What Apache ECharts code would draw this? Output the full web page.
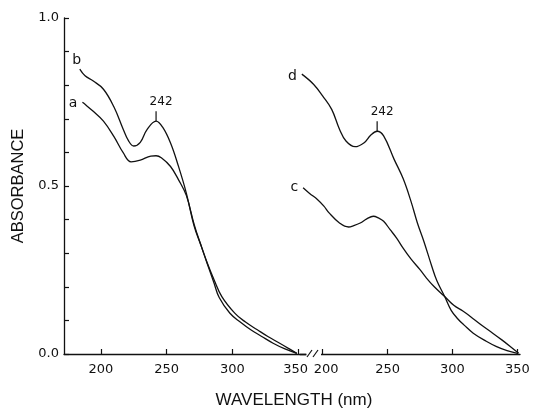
<!DOCTYPE html>
<html>
<head>
<meta charset="utf-8">
<script src="https://cdn.jsdelivr.net/npm/echarts@6/dist/echarts.min.js"></script>
<style>
  html, body { margin: 0; padding: 0; background: #fff; }
  #uvSpectra { width: 536px; height: 408px; }
</style>
</head>
<body>
<div id="uvSpectra"></div>
<script>
// left panel: curves a and b
var waveA = [186, 188, 194, 202, 210, 217, 223, 230, 238, 242, 246, 253, 259, 265, 271, 276, 281, 286, 292, 302, 310, 319, 327, 336, 343, 349];
var absA  = [0.749, 0.743, 0.723, 0.693, 0.647, 0.599, 0.572, 0.577, 0.589, 0.590, 0.584, 0.558, 0.519, 0.472, 0.385, 0.325, 0.27, 0.222, 0.171, 0.121, 0.095, 0.072, 0.052, 0.032, 0.016, 0.002];
var waveB = [184, 188, 194, 202, 210, 217, 221, 225, 230, 235, 242, 247, 253, 259, 265, 271, 276, 281, 286, 290, 298, 306, 314, 322, 331, 340, 349];
var absB  = [0.848, 0.828, 0.813, 0.788, 0.735, 0.669, 0.635, 0.619, 0.630, 0.667, 0.693, 0.675, 0.628, 0.559, 0.479, 0.38, 0.325, 0.268, 0.212, 0.168, 0.122, 0.095, 0.072, 0.053, 0.032, 0.015, 0.002];

// right panel: curves c and d
var waveC = [185, 190, 196, 201, 205, 213, 220, 224, 229, 234, 239, 243, 247, 252, 257, 262, 268, 275, 280, 286, 294, 301, 308, 314, 322, 331, 338, 344, 351];
var absC  = [0.495, 0.478, 0.46, 0.44, 0.42, 0.39, 0.378, 0.382, 0.39, 0.402, 0.41, 0.405, 0.395, 0.37, 0.345, 0.315, 0.283, 0.251, 0.226, 0.2, 0.171, 0.145, 0.128, 0.111, 0.087, 0.062, 0.042, 0.024, 0.002];
var waveD = [184, 193, 200, 207, 213, 218, 225, 232, 237, 242, 247, 255, 262, 268, 273, 278, 284, 288, 294, 299, 304, 309, 316, 326, 334, 342, 350];
var absD  = [0.833, 0.803, 0.768, 0.728, 0.669, 0.634, 0.617, 0.629, 0.651, 0.663, 0.649, 0.58, 0.522, 0.455, 0.39, 0.335, 0.262, 0.218, 0.171, 0.13, 0.105, 0.086, 0.062, 0.038, 0.022, 0.01, 0.002];

var waveTicks = [200, 250, 300, 350];
var peakWave = 242;

var ink = '#111';
var font = "'DejaVu Sans', sans-serif";

function pairs(xs, ys) {
  return xs.map(function (x, i) { return [x, ys[i]]; });
}
function valueAt(xs, ys, x) {
  return ys[xs.indexOf(x)];
}

function startLabel(xs, ys, name, pos, dist, off) {
  return {
    coord: [xs[0], ys[0]],
    symbolSize: 0,
    label: { show: true, formatter: name, position: pos, distance: dist, offset: off,
      color: ink, fontSize: 14, fontFamily: font }
  };
}
function peakLabel(xs, ys) {
  return {
    coord: [peakWave, valueAt(xs, ys, peakWave)],
    symbol: 'rect',
    symbolSize: [1.2, 10],
    symbolOffset: [0, -5],
    itemStyle: { color: ink },
    label: { show: true, formatter: String(peakWave), position: 'top', distance: 3, offset: [5, 0],
      color: ink, fontSize: 12, fontFamily: font }
  };
}

// the labels next to the break are nudged apart ("350 200")
function xAxisFor(idx, min, max, nudge) {
  return {
    type: 'value', gridIndex: idx, min: min, max: max, z: 0,
    axisLine: { lineStyle: { color: ink, width: 1.3 } },
    axisTick: { inside: true, length: 5, customValues: waveTicks, lineStyle: { color: ink, width: 1.2 } },
    axisLabel: {
      customValues: waveTicks, margin: 9, color: ink, fontSize: 13, fontFamily: font,
      formatter: function (v) { return v === nudge.at ? '{n|' + v + '}' : String(v); },
      rich: { n: { color: ink, fontSize: 13, fontFamily: font, padding: nudge.pad } }
    },
    splitLine: { show: false }
  };
}

function curve(name, xs, ys, xIdx, marks) {
  return {
    name: name, type: 'line', xAxisIndex: xIdx, yAxisIndex: xIdx, z: 2,
    data: pairs(xs, ys), smooth: 0.4, showSymbol: false,
    lineStyle: { color: ink, width: 1.3 },
    markPoint: { animation: false, data: marks }
  };
}

var chartDom = document.getElementById('uvSpectra');
var myChart = echarts.init(chartDom);
var option;

option = {
  animation: false,
  backgroundColor: '#fff',
  grid: [
    { left: 64, top: 18, width: 242, height: 336 },
    { left: 300, top: 18, width: 220, height: 336 }
  ],
  xAxis: [
    xAxisFor(0, 172, 356, { at: 350, pad: [0, 5, 0, 0] }),
    xAxisFor(1, 182.6, 352, { at: 200, pad: [0, 0, 0, 7] })
  ],
  yAxis: [
    {
      type: 'value', gridIndex: 0, min: 0, max: 1, interval: 0.1,
      name: 'ABSORBANCE', nameLocation: 'middle', nameGap: 37, nameRotate: 90,
      nameTextStyle: { color: ink, fontSize: 16.5, fontFamily: "'Liberation Sans', sans-serif" },
      axisLine: { show: true, lineStyle: { color: ink, width: 1.3 } },
      axisTick: { inside: true, length: 5, lineStyle: { color: ink, width: 1.2 } },
      axisLabel: {
        margin: 5, color: ink, fontSize: 13, fontFamily: font,
        formatter: function (v) { return Math.round(v * 10) % 5 === 0 ? v.toFixed(1) : ''; }
      },
      splitLine: { show: false }
    },
    { type: 'value', gridIndex: 1, min: 0, max: 1, show: false }
  ],
  series: [
    curve('a', waveA, absA, 0, [startLabel(waveA, absA, 'a', 'left', 5, [0, 1])]),
    curve('b', waveB, absB, 0, [startLabel(waveB, absB, 'b', 'top', 2, [-3, 0]), peakLabel(waveB, absB)]),
    curve('c', waveC, absC, 1, [startLabel(waveC, absC, 'c', 'left', 5, [0, 0])]),
    curve('d', waveD, absD, 1, [startLabel(waveD, absD, 'd', 'left', 5, [0, 2]), peakLabel(waveD, absD)])
  ],
  graphic: [
    {
      type: 'text', x: 294, y: 400,
      style: { text: 'WAVELENGTH (nm)', fill: ink, font: "17px 'Liberation Sans', sans-serif",
        textAlign: 'center', textVerticalAlign: 'middle' }
    },
    // axis break: hide the stub of the right axis, then draw the "//"
    { type: 'rect', z: 1, shape: { x: 306.5, y: 350, width: 14.5, height: 8 }, style: { fill: '#fff' } },
    { type: 'line', z: 3, shape: { x1: 307, y1: 357, x2: 312, y2: 350 }, style: { stroke: ink, lineWidth: 1.2 } },
    { type: 'line', z: 3, shape: { x1: 313, y1: 357, x2: 318, y2: 350 }, style: { stroke: ink, lineWidth: 1.2 } }
  ]
};

option && myChart.setOption(option);
</script>
</body>
</html>
